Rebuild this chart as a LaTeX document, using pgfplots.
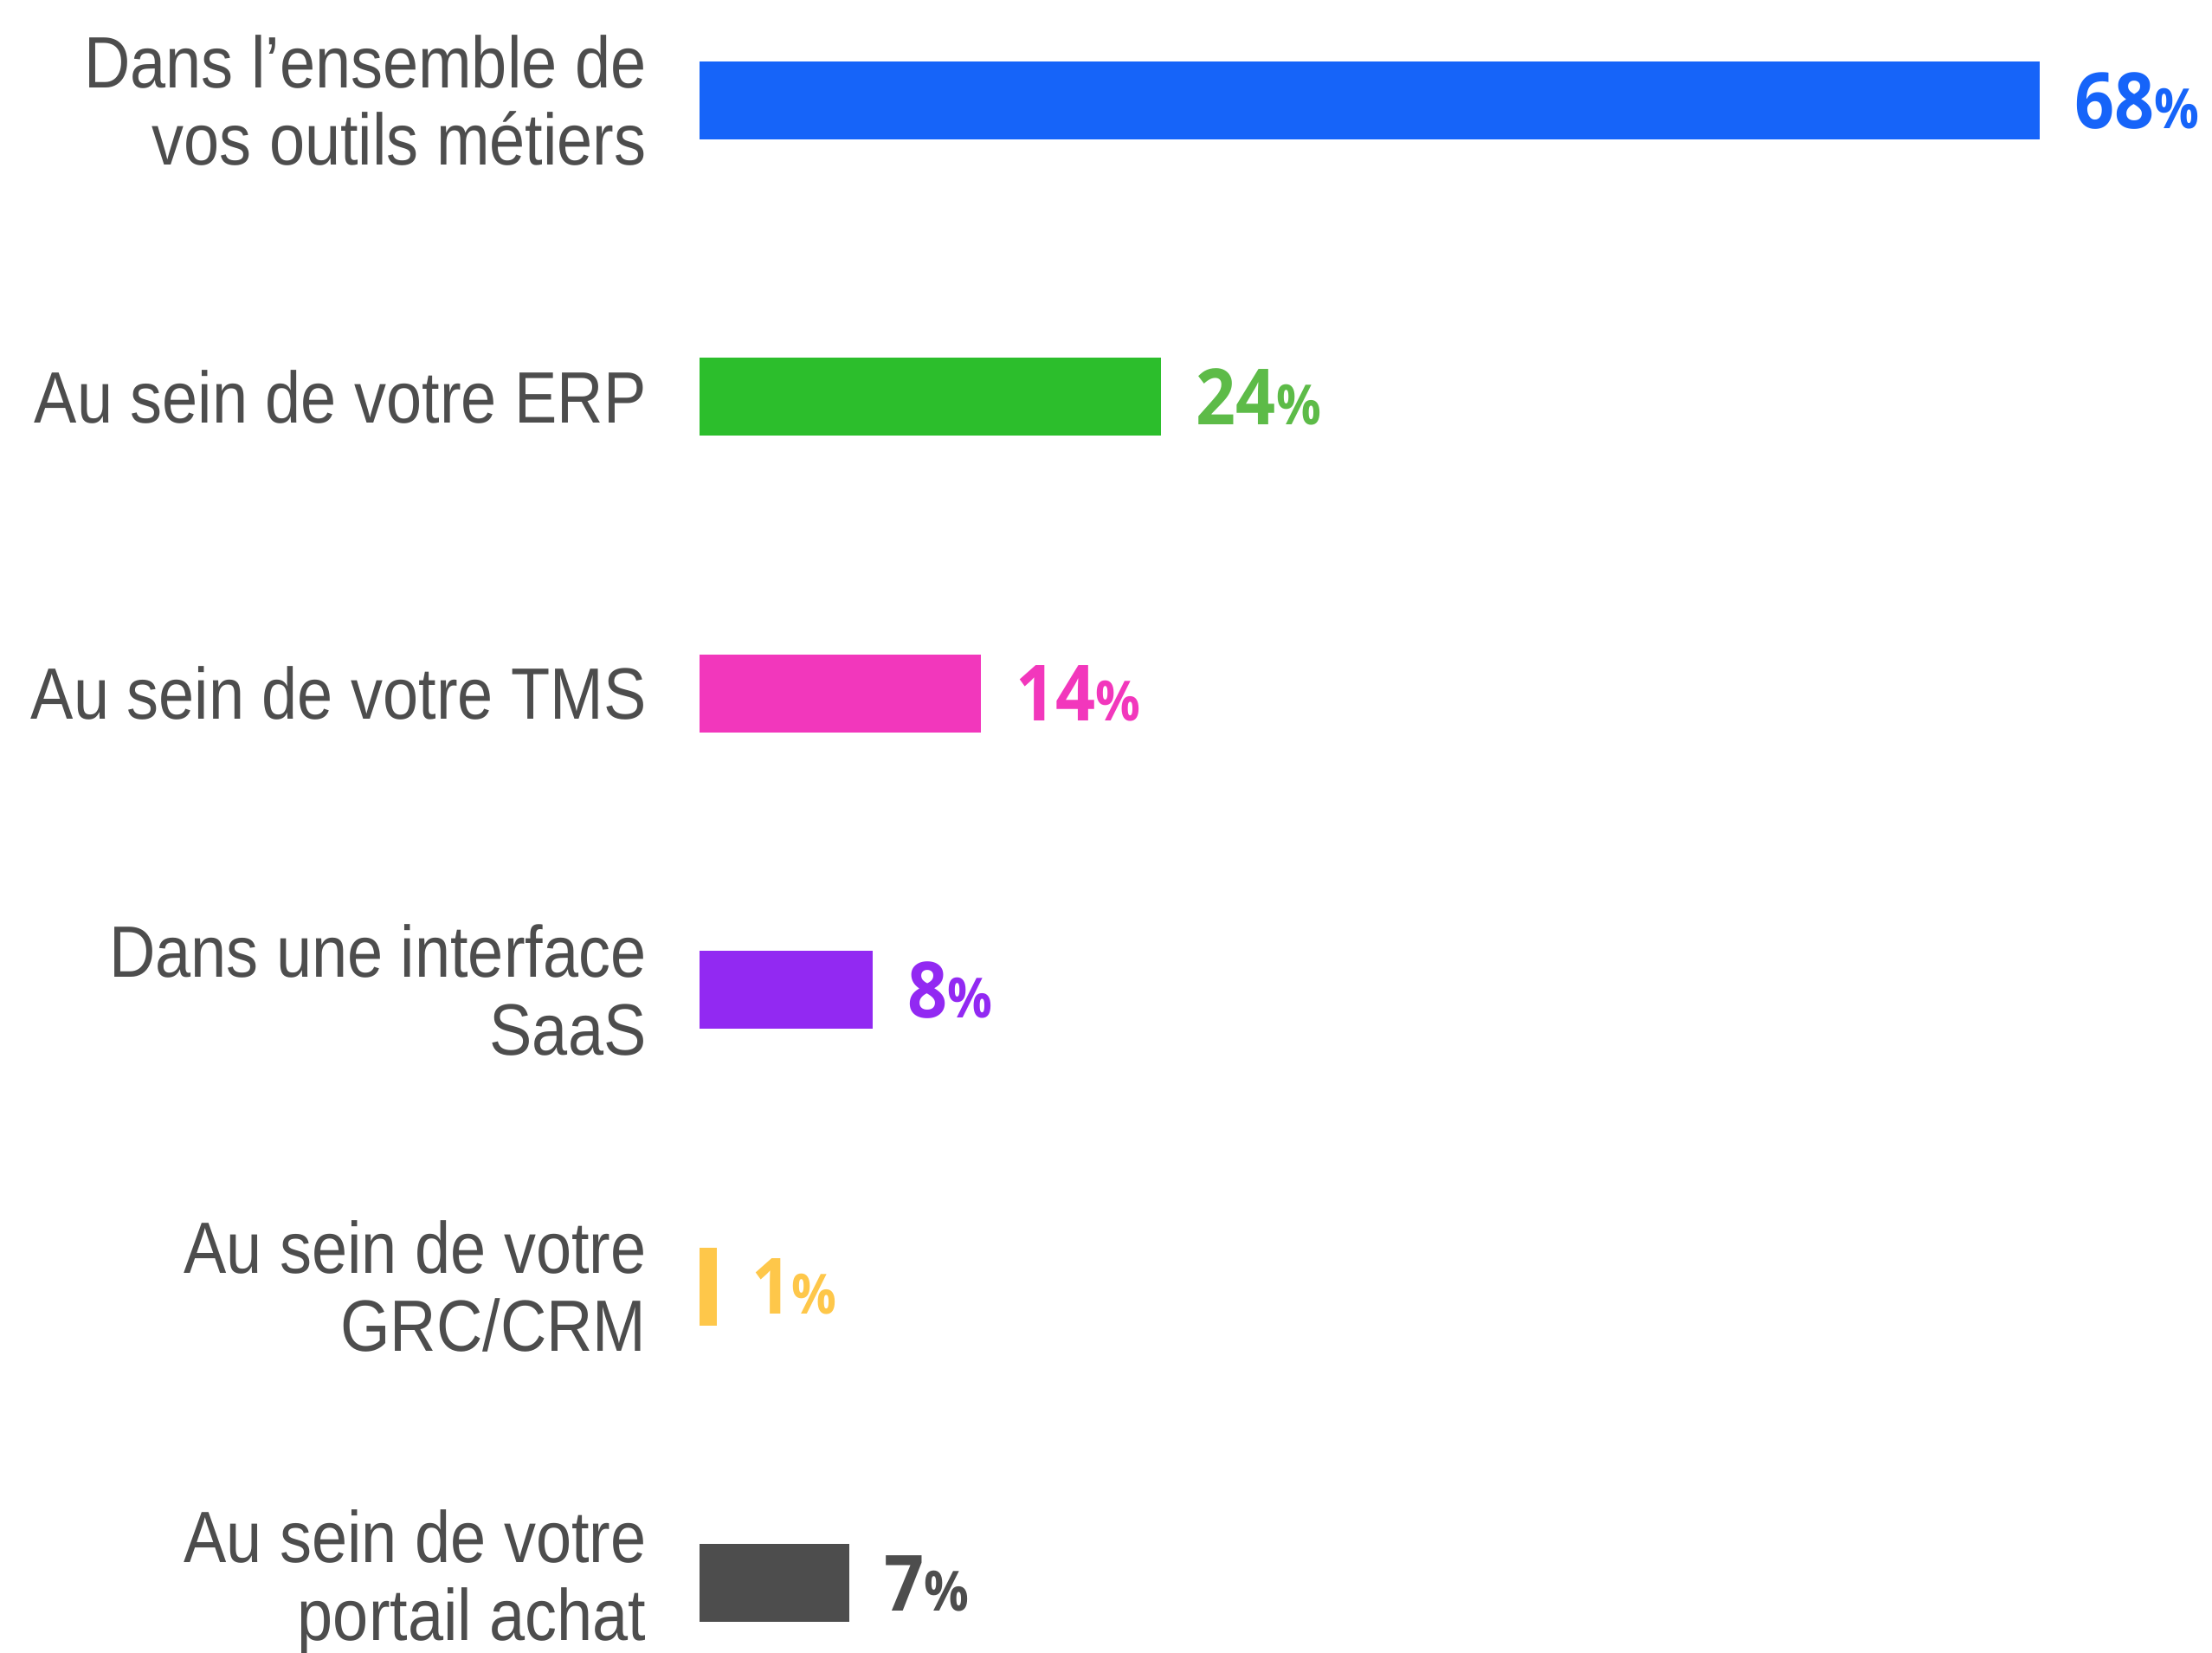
\documentclass[border=0pt]{standalone}
\usepackage{pgfplots}
\pgfplotsset{compat=1.18}
\usepackage{fontspec}
\setmainfont{Liberation Sans}[FakeStretch=0.88]
\newfontfamily\valfont{Open Sans}[FakeStretch=0.9]

\definecolor{txt}{HTML}{4D4D4D}
\definecolor{cblue}{HTML}{1664F9}
\definecolor{cgreen}{HTML}{2CBE2C}
\definecolor{cgreenl}{HTML}{5DBB48}
\definecolor{cpink}{HTML}{F237BC}
\definecolor{cpurple}{HTML}{9229F2}
\definecolor{cyellow}{HTML}{FEC74A}
\definecolor{cgray}{HTML}{4D4D4D}

% value label: big bold digits, smaller percent sign
\newcommand{\pct}[1]{{\valfont\bfseries\fontsize{22.4pt}{24pt}\selectfont #1{\fontsize{16pt}{17pt}\selectfont\%}}}

\begin{document}
\begin{tikzpicture}
\useasboundingbox (-202pt,-20pt) rectangle (436.75pt,457pt);
\begin{axis}[
  at={(0,0)}, anchor=south west,
  width=387pt, height=428pt,
  scale only axis,
  xbar,
  xmin=0, xmax=68,
  ymin=0, ymax=5,
  y dir=reverse,
  hide x axis,
  axis y line*=left,
  y axis line style={draw=none},
  ytick={0,1,2,3,4,5},
  ytick style={draw=none},
  yticklabels={
    {Dans l’ensemble de\\vos outils métiers},
    {Au sein de votre ERP},
    {Au sein de votre TMS},
    {Dans une interface\\SaaS},
    {Au sein de votre\\GRC/CRM},
    {Au sein de votre\\portail achat}},
  yticklabel style={align=right, text=txt, font=\fontsize{21pt}{22.4pt}\selectfont,
    inner sep=0pt, xshift=-10.9pt},
  bar width=22.5pt,
  /pgf/number format/assume math mode=true,
  nodes near coords={\pct{\pgfmathprintnumber{\pgfplotspointmeta}}},
  nodes near coords style={anchor=base west, inner sep=0pt, xshift=10pt, yshift=-8pt},
  point meta=explicit,
  clip=false,
]
% bar lengths as drawn, labels as printed
\addplot[fill=cblue, draw=none, bar shift=0pt, nodes near coords style={text=cblue}]
  coordinates {(68,0) [68]};
\addplot[fill=cgreen, draw=none, bar shift=0pt, nodes near coords style={text=cgreenl}]
  coordinates {(23.42,1) [24]};
\addplot[fill=cpink, draw=none, bar shift=0pt, nodes near coords style={text=cpink}]
  coordinates {(14.27,2) [14]};
\addplot[fill=cpurple, draw=none, bar shift=0pt, nodes near coords style={text=cpurple}]
  coordinates {(8.79,3) [8]};
\addplot[fill=cyellow, draw=none, bar shift=0pt, nodes near coords style={text=cyellow}]
  coordinates {(0.88,4) [1]};
\addplot[fill=cgray, draw=none, bar shift=0pt, nodes near coords style={text=cgray}]
  coordinates {(7.6,5) [7]};
\end{axis}
\end{tikzpicture}
\end{document}
